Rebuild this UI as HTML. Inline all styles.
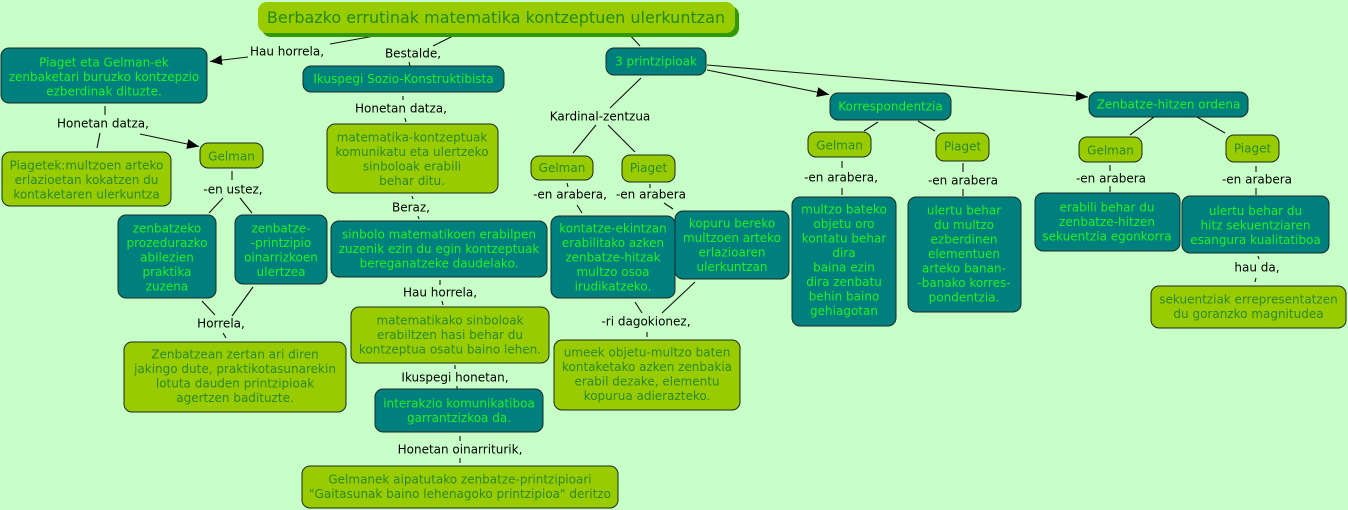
<!DOCTYPE html>
<html>
<head>
<meta charset="utf-8">
<style>
html,body{margin:0;padding:0;background:#c8ffc8;}
svg{display:block;}
text{font-family:"DejaVu Sans","Liberation Sans",sans-serif;font-size:12px;}
.tl text{fill:#22f022;}
.ol text{fill:#2a8a2a;}
.lb{fill:#000;}
.t{fill:#007f7f;stroke:#1a2a2a;stroke-width:1;}
.o{fill:#99cc00;stroke:#1a2a1a;stroke-width:1;}
.ln line{stroke:#111;stroke-width:1.1;}
</style>
</head>
<body>
<svg width="1348" height="510" viewBox="0 0 1348 510" xmlns="http://www.w3.org/2000/svg">
<defs>
<marker id="a" viewBox="0 0 12 10" refX="12" refY="5" markerWidth="12" markerHeight="10" markerUnits="userSpaceOnUse" orient="auto"><path d="M0,0 L12,5 L0,10 z" fill="#000"/></marker>
</defs>
<rect width="1348" height="510" fill="#c8ffc8"/>

<!-- connectors -->
<g class="ln">
<line x1="380" y1="35" x2="330" y2="44"/>
<line x1="453" y1="36" x2="433" y2="46"/>
<line x1="409" y1="62" x2="410" y2="66"/>
<line x1="403" y1="96" x2="403" y2="100"/>
<line x1="405" y1="118" x2="406" y2="122"/>
<line x1="412" y1="196" x2="413" y2="199"/>
<line x1="418" y1="216" x2="419" y2="219"/>
<line x1="440" y1="280" x2="440" y2="285"/>
<line x1="442" y1="301" x2="443" y2="305"/>
<line x1="455" y1="365" x2="455" y2="369"/>
<line x1="457" y1="386" x2="457" y2="389"/>
<line x1="460" y1="436" x2="460" y2="441"/>
<line x1="460" y1="458" x2="460" y2="463"/>
<line x1="105" y1="106" x2="105" y2="115"/>
<line x1="100" y1="133" x2="97" y2="148"/>
<line x1="232" y1="171" x2="232" y2="180"/>
<line x1="223" y1="198" x2="209" y2="213"/>
<line x1="240" y1="198" x2="252" y2="213"/>
<line x1="202" y1="301" x2="215" y2="315"/>
<line x1="253" y1="287" x2="232" y2="316"/>
<line x1="223" y1="333" x2="226" y2="338"/>
<line x1="627" y1="32" x2="640" y2="46"/>
<line x1="641" y1="78" x2="610" y2="108"/>
<line x1="596" y1="125" x2="573" y2="153"/>
<line x1="608" y1="125" x2="635" y2="152"/>
<line x1="567" y1="183" x2="568" y2="187"/>
<line x1="650" y1="184" x2="650" y2="188"/>
<line x1="577" y1="205" x2="582" y2="213"/>
<line x1="664" y1="203" x2="673" y2="209"/>
<line x1="635" y1="302" x2="642" y2="313"/>
<line x1="695" y1="282" x2="662" y2="313"/>
<line x1="647" y1="332" x2="647" y2="337"/>
<line x1="878" y1="122" x2="864" y2="131"/>
<line x1="918" y1="121" x2="935" y2="131"/>
<line x1="842" y1="161" x2="842" y2="168"/>
<line x1="842" y1="188" x2="842" y2="195"/>
<line x1="963" y1="163" x2="963" y2="172"/>
<line x1="963" y1="189" x2="963" y2="196"/>
<line x1="1154" y1="117" x2="1130" y2="135"/>
<line x1="1197" y1="117" x2="1225" y2="133"/>
<line x1="1110" y1="165" x2="1110" y2="171"/>
<line x1="1110" y1="186" x2="1110" y2="192"/>
<line x1="1256" y1="166" x2="1256" y2="172"/>
<line x1="1256" y1="188" x2="1256" y2="195"/>
<line x1="1258" y1="256" x2="1259" y2="259"/>
<line x1="1256" y1="278" x2="1255" y2="282"/>
<line x1="248" y1="57" x2="210" y2="61.5" marker-end="url(#a)"/>
<line x1="140" y1="134" x2="199" y2="146.5" marker-end="url(#a)"/>
<line x1="707" y1="70" x2="829" y2="94.5" marker-end="url(#a)"/>
<line x1="707" y1="65" x2="1088" y2="97" marker-end="url(#a)"/>
</g>

<!-- title -->
<rect x="262" y="6" width="477" height="31" rx="9" fill="#339900"/>
<rect x="258" y="2" width="477" height="31" rx="9" fill="#99cc00"/>
<text x="496" y="23" text-anchor="middle" style="font-size:16px" fill="#248a1c">Berbazko errutinak matematika kontzeptuen ulerkuntzan</text>

<!-- labels -->
<g class="lb" text-anchor="middle">
<text x="287" y="55.5">Hau horrela,</text>
<text x="413" y="57.5">Bestalde,</text>
<text x="401" y="112.5">Honetan datza,</text>
<text x="411" y="211.5">Beraz,</text>
<text x="440" y="296.5">Hau horrela,</text>
<text x="455" y="381.5">Ikuspegi honetan,</text>
<text x="460" y="453.5">Honetan oinarriturik,</text>
<text x="103" y="127.5">Honetan datza,</text>
<text x="233" y="193.5">-en ustez,</text>
<text x="221" y="327.5">Horrela,</text>
<text x="600" y="120.5">Kardinal-zentzua</text>
<text x="570" y="198.5">-en arabera,</text>
<text x="651" y="198.5">-en arabera</text>
<text x="646" y="325.5">-ri dagokionez,</text>
<text x="841" y="181.5">-en arabera,</text>
<text x="963" y="184.5">-en arabera</text>
<text x="1111" y="182.5">-en arabera</text>
<text x="1257" y="183.5">-en arabera</text>
<text x="1257" y="271.5">hau da,</text>
</g>

<!-- teal nodes -->
<g class="tl" text-anchor="middle">
<rect class="t" x="1" y="48" width="206" height="55" rx="8"/>
<text x="104" y="66.5">Piaget eta Gelman-ek</text>
<text x="104" y="81">zenbaketari buruzko kontzepzio</text>
<text x="104" y="95.5">ezberdinak dituzte.</text>

<rect class="t" x="303" y="66" width="201" height="26" rx="8"/>
<text x="403.5" y="83">Ikuspegi Sozio-Konstruktibista</text>

<rect class="t" x="331" y="221" width="216" height="56" rx="8"/>
<text x="439" y="238.5">sinbolo matematikoen erabilpen</text>
<text x="439" y="253">zuzenik ezin du egin kontzeptuak</text>
<text x="439" y="267.5">bereganatzeke daudelako.</text>

<rect class="t" x="375" y="389" width="168" height="43" rx="8"/>
<text x="459" y="407.5">interakzio komunikatiboa</text>
<text x="459" y="422">garrantzizkoa da.</text>

<rect class="t" x="118" y="215" width="98" height="83" rx="8"/>
<text x="167" y="232.5">zenbatzeko</text>
<text x="167" y="247">prozedurazko</text>
<text x="167" y="261.5">abilezien</text>
<text x="167" y="276">praktika</text>
<text x="167" y="290.5">zuzena</text>

<rect class="t" x="235" y="215" width="92" height="69" rx="8"/>
<text x="281" y="232.5">zenbatze-</text>
<text x="281" y="247">-printzipio</text>
<text x="281" y="261.5">oinarrizkoen</text>
<text x="281" y="276">ulertzea</text>

<rect class="t" x="606" y="48" width="100" height="27" rx="8"/>
<text x="656" y="65.5">3 printzipioak</text>

<rect class="t" x="551" y="216" width="124" height="82" rx="8"/>
<text x="613" y="232.5">kontatze-ekintzan</text>
<text x="613" y="247">erabilitako azken</text>
<text x="613" y="261.5">zenbatze-hitzak</text>
<text x="613" y="276">multzo osoa</text>
<text x="613" y="290.5">irudikatzeko.</text>

<rect class="t" x="675" y="211" width="114" height="68" rx="8"/>
<text x="732" y="227.5">kopuru bereko</text>
<text x="732" y="242">multzoen arteko</text>
<text x="732" y="256.5">erlazioaren</text>
<text x="732" y="271">ulerkuntzan</text>

<rect class="t" x="830" y="93" width="121" height="27" rx="8"/>
<text x="890.5" y="110.5">Korrespondentzia</text>

<rect class="t" x="1089" y="92" width="159" height="25" rx="8"/>
<text x="1168.5" y="108.5">Zenbatze-hitzen ordena</text>

<rect class="t" x="792" y="197" width="104" height="129" rx="8"/>
<text x="844" y="213.5">multzo bateko</text>
<text x="844" y="228">objetu oro</text>
<text x="844" y="242.5">kontatu behar</text>
<text x="844" y="257">dira</text>
<text x="844" y="271.5">baina ezin</text>
<text x="844" y="286">dira zenbatu</text>
<text x="844" y="300.5">behin baino</text>
<text x="844" y="315">gehiagotan</text>

<rect class="t" x="908" y="197" width="113" height="115" rx="8"/>
<text x="964" y="214.5">ulertu behar</text>
<text x="964" y="229">du multzo</text>
<text x="964" y="243.5">ezberdinen</text>
<text x="964" y="258">elementuen</text>
<text x="964" y="272.5">arteko banan-</text>
<text x="964" y="287">-banako korres-</text>
<text x="964" y="301.5">pondentzia.</text>

<rect class="t" x="1035" y="193" width="145" height="58" rx="8"/>
<text x="1107" y="211.5">erabili behar du</text>
<text x="1107" y="226">zenbatze-hitzen</text>
<text x="1107" y="240.5">sekuentzia egonkorra</text>

<rect class="t" x="1182" y="196" width="147" height="57" rx="8"/>
<text x="1255.5" y="215">ulertu behar du</text>
<text x="1255.5" y="229.5">hitz sekuentziaren</text>
<text x="1255.5" y="244">esangura kualitatiboa</text>
</g>

<!-- olive nodes -->
<g class="ol" text-anchor="middle">
<rect class="o" x="327" y="124" width="171" height="69" rx="8"/>
<text x="412" y="141.5">matematika-kontzeptuak</text>
<text x="412" y="156">komunikatu eta ulertzeko</text>
<text x="412" y="170.5">sinboloak erabili</text>
<text x="412" y="185">behar ditu.</text>

<rect class="o" x="351" y="307" width="198" height="56" rx="8"/>
<text x="450" y="324.5">matematikako sinboloak</text>
<text x="450" y="339">erabiltzen hasi behar du</text>
<text x="450" y="353.5">kontzeptua osatu baino lehen.</text>

<rect class="o" x="302" y="466" width="316" height="42" rx="8"/>
<text x="460" y="483.5">Gelmanek aipatutako zenbatze-printzipioari</text>
<text x="460" y="498">"Gaitasunak baino lehenagoko printzipioa" deritzo</text>

<rect class="o" x="2" y="152" width="169" height="54" rx="8"/>
<text x="86.5" y="169.5">Piagetek:multzoen arteko</text>
<text x="86.5" y="184">erlazioetan kokatzen du</text>
<text x="86.5" y="198.5">kontaketaren ulerkuntza</text>

<rect class="o" x="200" y="143" width="63" height="25" rx="8"/>
<text x="231.5" y="160.5">Gelman</text>

<rect class="o" x="124" y="342" width="222" height="70" rx="8"/>
<text x="235" y="358.5">Zenbatzean zertan ari diren</text>
<text x="235" y="373">jakingo dute, praktikotasunarekin</text>
<text x="235" y="387.5">lotuta dauden printzipioak</text>
<text x="235" y="402">agertzen badituzte.</text>

<rect class="o" x="531" y="156" width="62" height="24" rx="8"/>
<text x="562" y="172">Gelman</text>

<rect class="o" x="622" y="155" width="53" height="27" rx="8"/>
<text x="648.5" y="172">Piaget</text>

<rect class="o" x="554" y="340" width="186" height="70" rx="8"/>
<text x="647" y="356.5">umeek objetu-multzo baten</text>
<text x="647" y="371">kontaketako azken zenbakia</text>
<text x="647" y="385.5">erabil dezake, elementu</text>
<text x="647" y="400">kopurua adierazteko.</text>

<rect class="o" x="808" y="132" width="63" height="25" rx="8"/>
<text x="839.5" y="149.5">Gelman</text>

<rect class="o" x="936" y="133" width="53" height="28" rx="8"/>
<text x="962.5" y="150.5">Piaget</text>

<rect class="o" x="1079" y="137" width="63" height="25" rx="8"/>
<text x="1110.5" y="154.5">Gelman</text>

<rect class="o" x="1226" y="135" width="53" height="27" rx="8"/>
<text x="1252.5" y="152.5">Piaget</text>

<rect class="o" x="1151" y="286" width="195" height="42" rx="8"/>
<text x="1248.5" y="303.5">sekuentziak errepresentatzen</text>
<text x="1248.5" y="318">du goranzko magnitudea</text>
</g>
</svg>
</body>
</html>
